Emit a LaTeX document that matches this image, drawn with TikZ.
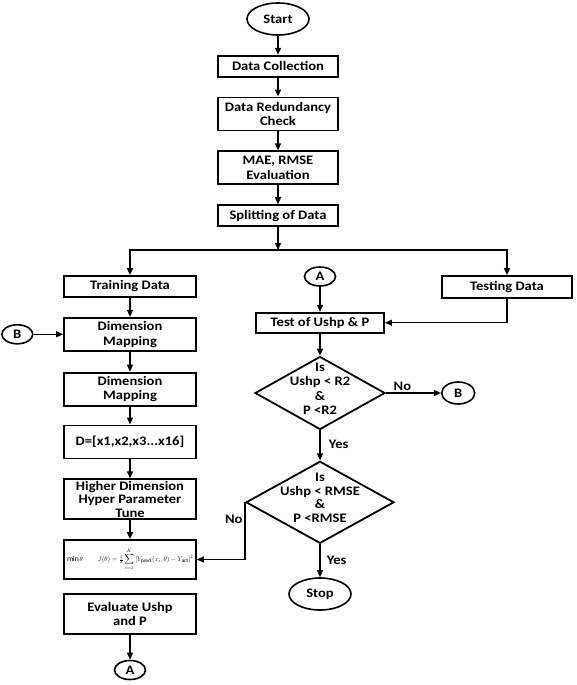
\documentclass[tikz,border=0pt]{standalone}
\usepackage{fontspec}
\setmainfont{Carlito}[FakeStretch=1.12]
\usepackage{amsmath}
\usepackage{graphicx}
\usetikzlibrary{shapes.geometric,arrows.meta,positioning,calc}

\newcommand{\condtext}[1]{\smash{\makebox[0pt]{\begin{tabular}{@{}c@{}}#1\end{tabular}}}}

\begin{document}
\begin{tikzpicture}[
    x=1pt, y=-1pt,
    node distance=19pt and 30pt,
    every node/.style={font=\fontsize{13}{14.5}\selectfont\bfseries},
    block/.style={rectangle, draw=black, line width=1.8pt, minimum width=120pt, minimum height=21pt, inner sep=0pt, align=center},
    tallblock/.style={block, minimum height=33pt},
    lblock/.style={block, minimum width=132pt},
    term/.style={ellipse, draw=black, line width=1.6pt, minimum width=62pt, minimum height=32pt, inner sep=0pt},
    conn/.style={ellipse, draw=black, line width=1.6pt, minimum width=31pt, minimum height=19pt, inner sep=0pt},
    decision/.style={diamond, draw=black, line width=1.8pt, inner sep=0pt},
    arrow/.style={line width=1.3pt, -{Triangle[length=7pt,width=6pt]}}
]
    \useasboundingbox (0,0) rectangle (576,685);

    % Main column
    \node[term] (start) at (278,19) {Start};
    \node[block, below=19pt of start] (collect) {Data Collection};
    \node[tallblock, below=19pt of collect] (redund) {Data Redundancy\\Check};
    \node[tallblock, below=19pt of redund] (mae) {MAE, RMSE\\Evaluation};
    \node[block, below=19pt of mae] (split) {Splitting of Data};
    \coordinate (fork) at (278,250);

    % Training branch
    \node[lblock] (train) at (130,286.5) {Training Data};
    \node[lblock, minimum height=33pt, below=19pt of train] (dimmap) {Dimension\\Mapping};
    \node[lblock, minimum height=33pt, below=20pt of dimmap] (dimmap2) {Dimension\\Mapping};
    \node[lblock, minimum height=33pt, below=18pt of dimmap2] (dvec) {D=[x1,x2,x3...x16]};
    \node[lblock, minimum height=40pt, below=19pt of dvec, font=\fontsize{13}{13.5}\selectfont\bfseries] (hyper) {Higher Dimension\\Hyper Parameter\\Tune};
    \node[lblock, minimum height=39pt, below=19pt of hyper] (cost) {\resizebox{126pt}{!}{$\min\theta\qquad J(\theta)=\tfrac{1}{2}\displaystyle\sum_{i=1}^{K}\left[Y_{\mathrm{pred}}\,(x_i,\theta)-Y_{\mathrm{act}}\right]^2$}};
    \node[lblock, minimum height=40pt, below=13pt of cost] (evalp) {Evaluate Ushp\\and P};
    \node[conn, below=25pt of evalp] (outA) {A};
    \node[conn, left=29.5pt of dimmap] (inB) {B};

    % Testing branch
    \node[conn] (inA) at (320,276.5) {A};
    \node[block, minimum width=128pt, minimum height=20pt, below=25pt of inA] (test) {Test of Ushp \& P};
    \node[block, minimum width=130pt, minimum height=22pt] (testing) at (507,287) {Testing Data};
    \node[decision, minimum width=130pt, minimum height=73pt, below=22pt of test] (isr2) {\condtext{Is\\Ushp < R2\\\&\\P <R2}};
    \node[conn, minimum width=33pt, minimum height=22pt, right=55pt of isr2] (outB) {B};
    \node[decision, minimum width=148pt, minimum height=82pt, below=30pt of isr2, font=\fontsize{13}{13.5}\selectfont\bfseries] (isrmse) {\condtext{Is\\Ushp < RMSE\\\&\\P <RMSE}};
    \node[term, below=33pt of isrmse] (stop) {Stop};

    % Arrows
    \draw[arrow] (start) -- (collect);
    \draw[arrow] (collect) -- (redund);
    \draw[arrow] (redund) -- (mae);
    \draw[arrow] (mae) -- (split);
    \draw[arrow] (split) -- (fork);
    \draw[arrow] (fork) -| (train);
    \draw[arrow] (fork) -| (testing);
    \draw[arrow] (train) -- (dimmap);
    \draw[arrow] (dimmap) -- (dimmap2);
    \draw[arrow] (dimmap2) -- (dvec);
    \draw[arrow] (dvec) -- (hyper);
    \draw[arrow] (hyper) -- (cost);
    \draw[arrow] (evalp) -- (outA);
    \draw[arrow] (inB) -- (dimmap);
    \draw[arrow] (inA) -- (test);
    \draw[arrow] (testing.south) |- (test.east);
    \draw[arrow] (test) -- (isr2);
    \draw[arrow] (isr2) -- node[above, inner sep=2pt, pos=0.3] {No} (outB);
    \draw[arrow] (isr2) -- node[right, xshift=5pt, pos=0.45] {Yes} (isrmse);
    \draw[arrow] (isrmse) -- node[right, xshift=3pt] {Yes} (stop);
    \draw[arrow] (isrmse.west) |- node[left, inner sep=2pt, pos=0.15] {No} (cost.east);

\end{tikzpicture}
\end{document}
